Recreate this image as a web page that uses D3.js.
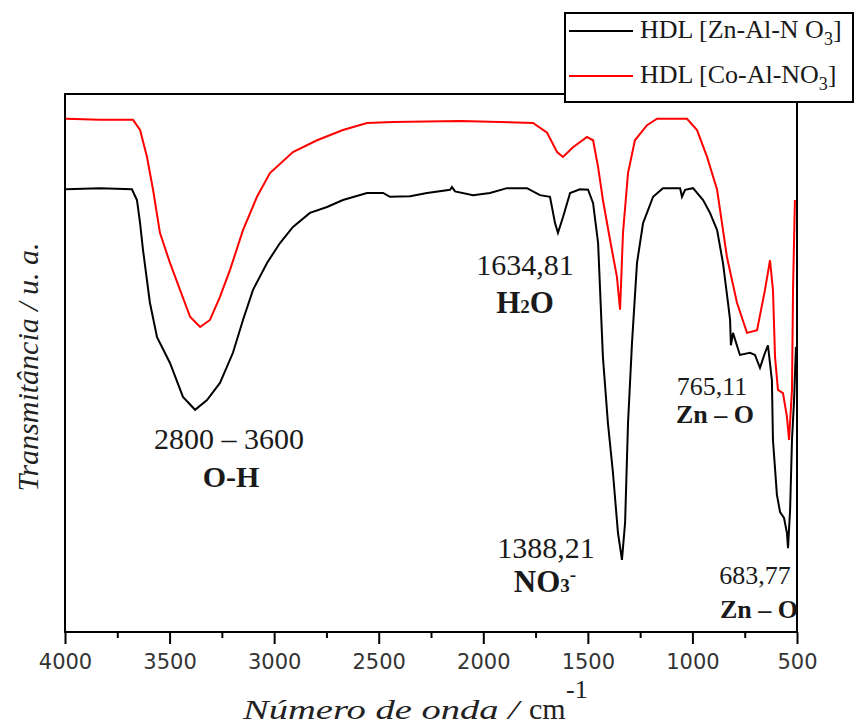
<!DOCTYPE html>
<html>
<head>
<meta charset="utf-8">
<script src="https://cdn.jsdelivr.net/npm/d3@7/dist/d3.min.js"></script>
<style>
  html, body { margin: 0; padding: 0; background: #fff; }
  svg { display: block; }
</style>
</head>
<body>
<svg id="chart" width="855" height="727"></svg>
<script>
// FTIR spectra: wavenumber (cm^-1) and transmittance (arbitrary units)
const znWavenumber = [3995, 3833, 3680, 3656, 3641, 3627, 3594, 3560, 3498, 3436, 3378, 3321, 3259, 3197, 3149, 3101, 3034, 2972, 2910, 2829, 2747, 2671, 2556, 2479, 2446, 2350, 2269, 2159, 2150, 2135, 2049, 1968, 1887, 1791, 1729, 1681, 1657, 1643, 1619, 1585, 1538, 1499, 1475, 1451, 1428, 1404, 1380, 1356, 1337, 1322, 1308, 1289, 1265, 1236, 1188, 1141, 1059, 1050, 1035, 997, 949, 916, 882, 854, 830, 820, 816, 806, 773, 725, 701, 677, 653, 639, 620, 615, 596, 581, 562, 548, 543, 533, 524, 514, 505];
const znTransmittance = [82.3, 82.5, 82.3, 80.3, 76.0, 71.0, 61.2, 54.8, 50.0, 43.7, 41.3, 43.1, 46.3, 51.9, 58.0, 63.6, 68.6, 72.3, 75.3, 77.9, 79.0, 80.3, 81.6, 81.6, 80.9, 81.0, 81.6, 82.2, 82.7, 81.9, 81.2, 81.6, 82.5, 82.5, 81.2, 80.9, 76.0, 74.2, 77.1, 81.6, 82.3, 82.2, 79.7, 72.3, 51.1, 38.8, 29.6, 18.4, 13.4, 20.3, 38.8, 53.7, 68.6, 76.0, 80.9, 82.5, 82.5, 80.9, 82.2, 82.5, 80.3, 77.9, 74.7, 68.6, 61.2, 58.0, 53.3, 55.6, 51.5, 51.9, 51.5, 49.1, 51.9, 53.3, 46.8, 35.7, 25.5, 22.3, 21.2, 18.4, 15.6, 22.7, 35.7, 43.1, 53.0];

const coWavenumber = [3995, 3833, 3675, 3641, 3608, 3579, 3546, 3498, 3450, 3402, 3354, 3307, 3259, 3211, 3149, 3082, 3020, 2910, 2795, 2671, 2556, 2432, 2111, 1762, 1695, 1647, 1619, 1571, 1504, 1475, 1451, 1428, 1394, 1361, 1346, 1332, 1308, 1275, 1217, 1169, 1026, 978, 930, 882, 835, 787, 739, 691, 653, 629, 615, 605, 591, 567, 548, 538, 524, 519, 510];
const coTransmittance = [95.4, 95.2, 95.2, 93.3, 88.3, 82.2, 74.2, 68.6, 63.6, 58.6, 56.7, 58.0, 62.3, 67.3, 74.7, 80.9, 85.3, 89.2, 91.4, 93.3, 94.6, 94.8, 95.0, 94.6, 92.8, 89.2, 88.3, 90.1, 92.0, 91.4, 86.4, 80.3, 72.9, 66.0, 59.9, 74.2, 85.3, 91.4, 94.2, 95.4, 95.4, 93.3, 88.3, 82.2, 69.7, 61.2, 55.6, 56.1, 63.6, 69.1, 63.6, 51.1, 45.0, 44.4, 40.0, 35.7, 45.0, 63.6, 80.3];

const seriesNames = ["HDL [Zn-Al-N O", "HDL [Co-Al-NO"];
const seriesColors = ["#000000", "#ff0000"];

const xTickValues = [4000, 3500, 3000, 2500, 2000, 1500, 1000, 500];
const xMinorTicks = [3750, 3250, 2750, 2250, 1750, 1250, 750];

// Band annotations
const bandValues = ["2800 \u2013 3600", "1634,81", "1388,21", "765,11", "683,77"];

const svg = d3.select("#chart");
const W = 855, H = 727;
const plot = { left: 65, right: 797, top: 94, bottom: 632 };

const x = d3.scaleLinear().domain([4000, 500]).range([plot.left, plot.right]);
const y = d3.scaleLinear().domain([0, 100]).range([plot.bottom, plot.top]);

svg.append("rect").attr("width", W).attr("height", H).attr("fill", "#fff");

svg.append("defs").append("clipPath").attr("id", "plotClip")
  .append("rect")
  .attr("x", plot.left).attr("y", plot.top)
  .attr("width", plot.right - plot.left).attr("height", plot.bottom - plot.top);

const line = d3.line().x(d => x(d[0])).y(d => y(d[1]));

const spectra = [
  d3.zip(znWavenumber, znTransmittance),
  d3.zip(coWavenumber, coTransmittance)
];

const g = svg.append("g").attr("clip-path", "url(#plotClip)");
// red spectrum drawn first so the black one sits on top
[1, 0].forEach(i => {
  g.append("path")
    .datum(spectra[i])
    .attr("fill", "none")
    .attr("stroke", seriesColors[i])
    .attr("stroke-width", 2)
    .attr("d", line);
});

// frame
svg.append("rect")
  .attr("x", plot.left).attr("y", plot.top)
  .attr("width", plot.right - plot.left).attr("height", plot.bottom - plot.top)
  .attr("fill", "none").attr("stroke", "#000").attr("stroke-width", 2);

// bottom axis
const axis = d3.axisBottom(x).tickValues(xTickValues).tickSize(12).tickPadding(6)
  .tickFormat(d3.format("d"));
const ax = svg.append("g").attr("transform", `translate(0,${plot.bottom})`).call(axis);
ax.select(".domain").remove();
ax.selectAll(".tick line").attr("stroke", "#000").attr("stroke-width", 2);
ax.selectAll(".tick text")
  .attr("font-family", "'DejaVu Sans', sans-serif")
  .attr("font-size", 21)
  .attr("fill", "#333")
  .attr("dy", null)
  .attr("y", 37);

const minor = d3.axisBottom(x).tickValues(xMinorTicks).tickSize(6).tickFormat("");
const mx = svg.append("g").attr("transform", `translate(0,${plot.bottom})`).call(minor);
mx.select(".domain").remove();
mx.selectAll(".tick line").attr("stroke", "#000").attr("stroke-width", 2);

const serif = "'Liberation Serif', 'Times New Roman', serif";

// axis titles
svg.append("text")
  .attr("x", 243).attr("y", 719)
  .attr("font-family", serif).attr("font-size", 28).attr("font-style", "italic")
  .attr("fill", "#222")
  .attr("textLength", 276).attr("lengthAdjust", "spacingAndGlyphs")
  .text("N\u00famero de onda /");
svg.append("text")
  .attr("x", 529).attr("y", 719)
  .attr("font-family", serif).attr("font-size", 30).attr("fill", "#222")
  .text("cm");
svg.append("text")
  .attr("x", 566).attr("y", 698)
  .attr("font-family", serif).attr("font-size", 26).attr("fill", "#222")
  .text("-1");

svg.append("text")
  .attr("transform", "translate(38,367) rotate(-90)")
  .attr("text-anchor", "middle")
  .attr("font-family", serif).attr("font-size", 30).attr("font-style", "italic")
  .attr("fill", "#222")
  .text("Transmit\u00e2ncia / u. a.");

// band labels
function label(xp, yp, txt, opts = {}) {
  return svg.append("text")
    .attr("x", xp).attr("y", yp)
    .attr("text-anchor", opts.anchor || "middle")
    .attr("font-family", serif)
    .attr("font-size", opts.size || 27)
    .attr("font-weight", opts.bold ? "bold" : "normal")
    .attr("fill", "#1a1a1a")
    .text(txt);
}

label(229, 449, bandValues[0], { size: 30 });
label(231, 487, "O-H", { bold: true, size: 30 });

label(525, 275, bandValues[1], { size: 30 });
const h2o = label(525, 313, "", { bold: true, size: 31 });
h2o.append("tspan").text("H");
h2o.append("tspan").attr("font-size", 19).text("2");
h2o.append("tspan").text("O");

label(546, 558, bandValues[2], { size: 30 });
const no3 = label(545, 592, "", { bold: true, size: 31 });
no3.append("tspan").text("NO");
no3.append("tspan").attr("font-size", 19).text("3");
no3.append("tspan").attr("font-size", 19).attr("dy", -11).text("-");

label(712, 395, bandValues[3], { size: 26 });
label(715, 423, "Zn \u2013 O", { bold: true, size: 26 });

label(755, 584, bandValues[4], { size: 26 });
label(759, 618, "Zn \u2013 O", { bold: true, size: 26 });

// legend
const lg = svg.append("g");
lg.append("rect")
  .attr("x", 565).attr("y", 13).attr("width", 288).attr("height", 89)
  .attr("fill", "#fff").attr("stroke", "#000").attr("stroke-width", 2);
const rowY = [31, 76];
seriesNames.forEach((name, i) => {
  lg.append("line")
    .attr("x1", 569).attr("x2", 633)
    .attr("y1", rowY[i]).attr("y2", rowY[i])
    .attr("stroke", seriesColors[i]).attr("stroke-width", 2);
  const t = lg.append("text")
    .attr("x", 640).attr("y", rowY[i] + 7)
    .attr("font-family", serif).attr("font-size", 26).attr("fill", "#1a1a1a");
  t.append("tspan").text(name);
  t.append("tspan").attr("font-size", 18).attr("dy", 7).text("3");
  t.append("tspan").attr("dy", -7).text("]");
});
</script>
</body>
</html>
